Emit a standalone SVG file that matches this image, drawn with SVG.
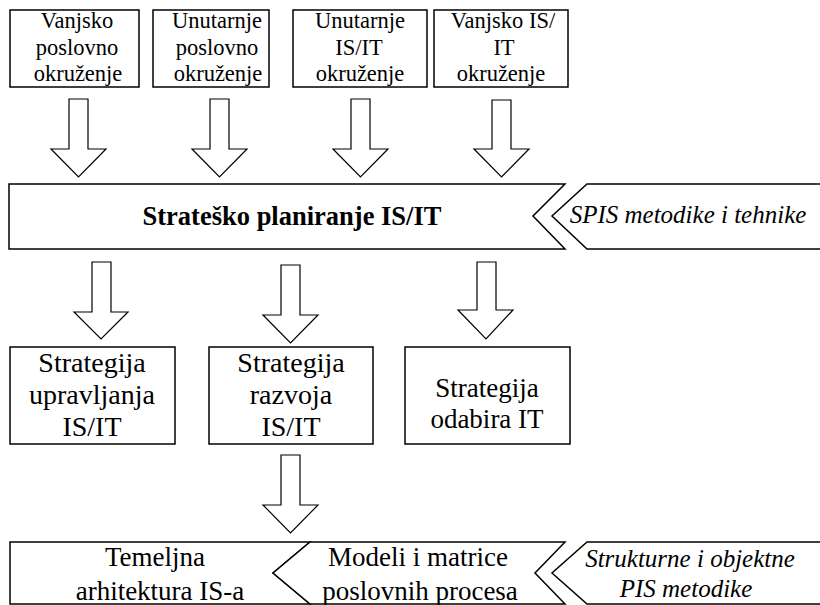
<svg xmlns="http://www.w3.org/2000/svg" width="820" height="605" viewBox="0 0 820 605">
<style>
.box{fill:#fff;stroke:#000;stroke-width:1.5}
.arr{fill:#fff;stroke:#000;stroke-width:1.2}
.t22{font-size:22.5px}
.t27{font-size:27px}
.t28{font-size:28px}
.bold{font-size:26.5px;font-weight:bold}
.it{font-size:25px;font-style:italic}
</style>
<rect width="820" height="605" fill="#fff"/>
<g font-family="Liberation Serif, DejaVu Serif, serif" text-anchor="middle" fill="#000">
<g id="n-vanjsko-poslovno">
<rect class="box" x="10" y="10" width="129" height="77"/>
<text class="t22" x="77" y="28">Vanjsko</text>
<text class="t22" x="77" y="54.5">poslovno</text>
<text class="t22" x="78" y="81">okruženje</text>
</g>
<g id="n-unutarnje-poslovno">
<rect class="box" x="153" y="10" width="116" height="77"/>
<text class="t22" x="217" y="28">Unutarnje</text>
<text class="t22" x="217" y="54.5">poslovno</text>
<text class="t22" x="218" y="81">okruženje</text>
</g>
<g id="n-unutarnje-isit">
<rect class="box" x="293" y="10" width="134" height="77"/>
<text class="t22" x="360" y="28">Unutarnje</text>
<text class="t22" x="359" y="54.5">IS/IT</text>
<text class="t22" x="360" y="81">okruženje</text>
</g>
<g id="n-vanjsko-isit">
<rect class="box" x="434" y="10" width="134" height="77"/>
<text class="t22" x="503" y="28">Vanjsko IS/</text>
<text class="t22" x="504" y="54.5">IT</text>
<text class="t22" x="501" y="81">okruženje</text>
</g>
<g id="n-stratesko">
<path class="box" d="M9 184 H565 L533 216 L565 249 H9 Z"/>
<text class="bold" x="292" y="225">Strateško planiranje IS/IT</text>
</g>
<g id="n-spis">
<path class="box" d="M822 184 H587 L552 216 L587 249 H822"/>
<text class="it" x="688" y="223">SPIS metodike i tehnike</text>
</g>
<g id="n-upravljanja">
<rect class="box" x="10" y="347" width="165" height="97"/>
<text class="t28" x="92" y="372">Strategija</text>
<text class="t28" x="92" y="404">upravljanja</text>
<text class="t28" x="92" y="436">IS/IT</text>
</g>
<g id="n-razvoja">
<rect class="box" x="209" y="347" width="164" height="97"/>
<text class="t28" x="291" y="372">Strategija</text>
<text class="t28" x="291" y="404">razvoja</text>
<text class="t28" x="291" y="436">IS/IT</text>
</g>
<g id="n-odabira">
<rect class="box" x="405" y="347" width="165" height="97"/>
<text class="t27" x="487" y="397">Strategija</text>
<text class="t27" x="487" y="428">odabira IT</text>
</g>
<g id="n-temeljna">
<path class="box" d="M10 542 H310 L273 573 L310 604 H10 Z"/>
<text class="t27" x="155" y="566">Temeljna</text>
<text class="t27" x="160" y="600">arhitektura IS-a</text>
</g>
<g id="n-modeli">
<path class="box" d="M310 542 H565 L535 573 L565 604 H310 L273 573 Z"/>
<text class="t27" x="418" y="566">Modeli i matrice</text>
<text class="t27" x="420" y="600">poslovnih procesa</text>
</g>
<g id="n-strukturne">
<path class="box" d="M822 542 H587 L552 573 L587 604 H822"/>
<text class="it" x="690" y="567">Strukturne i objektne</text>
<text class="it" x="686" y="597">PIS metodike</text>
</g>
</g>
<g id="connectors">
<polygon class="arr" points="69,99 88,99 88,149 106,149 78.5,177 51,149 69,149"/>
<polygon class="arr" points="210,99 229,99 229,149 247,149 219.5,177 192,149 210,149"/>
<polygon class="arr" points="351,99 370,99 370,149 388,149 360.5,177 333,149 351,149"/>
<polygon class="arr" points="492,100 511,100 511,149 529,149 501.5,177 474,149 492,149"/>
<polygon class="arr" points="92,262 111,262 111,312 128,312 101,339 74,312 92,312"/>
<polygon class="arr" points="281,265 300,265 300,315 318,315 290.5,343 263,315 281,315"/>
<polygon class="arr" points="477,262 496,262 496,310 513,310 486,339 458,310 477,310"/>
<polygon class="arr" points="281,455 300,455 300,505 318,505 290.5,533 263,505 281,505"/>
</g>
</svg>
